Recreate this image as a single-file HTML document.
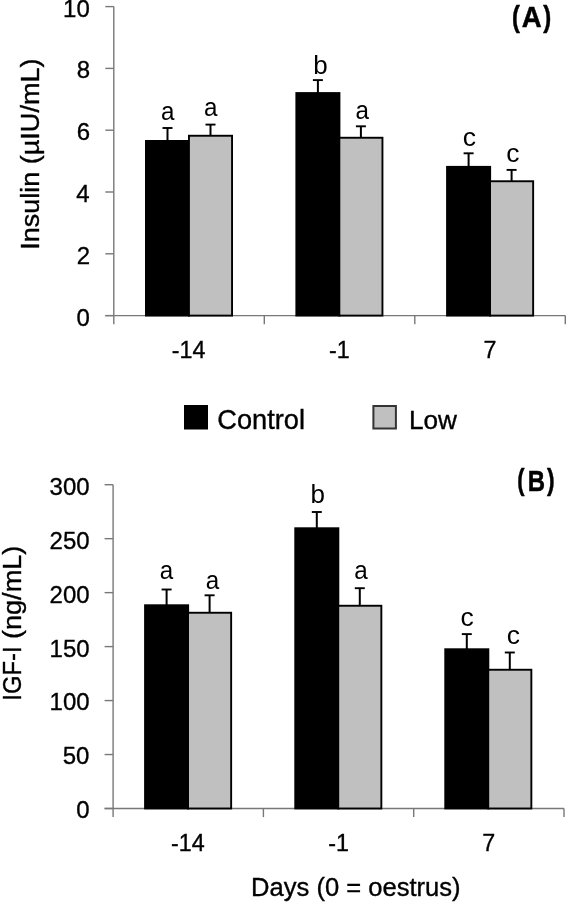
<!DOCTYPE html>
<html><head><meta charset="utf-8"><style>
html,body{margin:0;padding:0;background:#fff;width:566px;height:902px;overflow:hidden}
svg{display:block;will-change:transform}
text{font-family:"Liberation Sans",sans-serif;font-size:100px;fill:#000;stroke:#000;stroke-width:1.4px}
text.ns{stroke:none}
text.bd{stroke-width:1.6px}
</style></head><body>
<svg width="566" height="902" viewBox="0 0 566 902">
<rect width="566" height="902" fill="#fff"/>
<line x1="113.8" y1="6.6" x2="113.8" y2="324.20000000000005" stroke="#787878" stroke-width="1.4"/>
<line x1="105.3" y1="315.6" x2="565.3" y2="315.6" stroke="#787878" stroke-width="1.4"/>
<line x1="105.3" y1="6.6" x2="113.8" y2="6.6" stroke="#787878" stroke-width="1.4"/>
<line x1="105.3" y1="68.39999999999999" x2="113.8" y2="68.39999999999999" stroke="#787878" stroke-width="1.4"/>
<line x1="105.3" y1="130.2" x2="113.8" y2="130.2" stroke="#787878" stroke-width="1.4"/>
<line x1="105.3" y1="192.0" x2="113.8" y2="192.0" stroke="#787878" stroke-width="1.4"/>
<line x1="105.3" y1="253.79999999999998" x2="113.8" y2="253.79999999999998" stroke="#787878" stroke-width="1.4"/>
<line x1="105.3" y1="315.6" x2="113.8" y2="315.6" stroke="#787878" stroke-width="1.4"/>
<line x1="264.29999999999995" y1="315.6" x2="264.29999999999995" y2="324.20000000000005" stroke="#787878" stroke-width="1.4"/>
<line x1="414.79999999999995" y1="315.6" x2="414.79999999999995" y2="324.20000000000005" stroke="#787878" stroke-width="1.4"/>
<line x1="565.2999999999998" y1="315.6" x2="565.2999999999998" y2="324.20000000000005" stroke="#787878" stroke-width="1.4"/>
<line x1="167.50" y1="141.00" x2="167.50" y2="128.00" stroke="#000" stroke-width="2"/>
<line x1="162.50" y1="128.00" x2="172.50" y2="128.00" stroke="#000" stroke-width="1.9"/>
<line x1="210.50" y1="135.80" x2="210.50" y2="124.60" stroke="#000" stroke-width="2"/>
<line x1="205.50" y1="124.60" x2="215.50" y2="124.60" stroke="#000" stroke-width="1.9"/>
<rect x="145.00" y="140.00" width="45.00" height="176.50" fill="#000"/>
<rect x="188.95" y="135.75" width="43.10" height="179.85" fill="#c0c0c0" stroke="#000" stroke-width="1.9"/>
<line x1="317.90" y1="93.10" x2="317.90" y2="80.10" stroke="#000" stroke-width="2"/>
<line x1="312.90" y1="80.10" x2="322.90" y2="80.10" stroke="#000" stroke-width="1.9"/>
<line x1="360.90" y1="137.80" x2="360.90" y2="126.30" stroke="#000" stroke-width="2"/>
<line x1="355.90" y1="126.30" x2="365.90" y2="126.30" stroke="#000" stroke-width="1.9"/>
<rect x="295.40" y="92.10" width="45.00" height="224.40" fill="#000"/>
<rect x="339.35" y="137.75" width="43.10" height="177.85" fill="#c0c0c0" stroke="#000" stroke-width="1.9"/>
<line x1="468.60" y1="166.90" x2="468.60" y2="153.30" stroke="#000" stroke-width="2"/>
<line x1="463.60" y1="153.30" x2="473.60" y2="153.30" stroke="#000" stroke-width="1.9"/>
<line x1="511.60" y1="181.30" x2="511.60" y2="169.90" stroke="#000" stroke-width="2"/>
<line x1="506.60" y1="169.90" x2="516.60" y2="169.90" stroke="#000" stroke-width="1.9"/>
<rect x="446.10" y="165.90" width="45.00" height="150.60" fill="#000"/>
<rect x="490.05" y="181.25" width="43.10" height="134.35" fill="#c0c0c0" stroke="#000" stroke-width="1.9"/>
<line x1="113.1" y1="484.7" x2="113.1" y2="817.1" stroke="#787878" stroke-width="1.4"/>
<line x1="104.6" y1="808.5" x2="564.0" y2="808.5" stroke="#787878" stroke-width="1.4"/>
<line x1="104.6" y1="484.7" x2="113.1" y2="484.7" stroke="#787878" stroke-width="1.4"/>
<line x1="104.6" y1="538.6666666666666" x2="113.1" y2="538.6666666666666" stroke="#787878" stroke-width="1.4"/>
<line x1="104.6" y1="592.6333333333333" x2="113.1" y2="592.6333333333333" stroke="#787878" stroke-width="1.4"/>
<line x1="104.6" y1="646.6" x2="113.1" y2="646.6" stroke="#787878" stroke-width="1.4"/>
<line x1="104.6" y1="700.5666666666666" x2="113.1" y2="700.5666666666666" stroke="#787878" stroke-width="1.4"/>
<line x1="104.6" y1="754.5333333333333" x2="113.1" y2="754.5333333333333" stroke="#787878" stroke-width="1.4"/>
<line x1="104.6" y1="808.5" x2="113.1" y2="808.5" stroke="#787878" stroke-width="1.4"/>
<line x1="263.4" y1="808.5" x2="263.4" y2="817.1" stroke="#787878" stroke-width="1.4"/>
<line x1="413.69999999999993" y1="808.5" x2="413.69999999999993" y2="817.1" stroke="#787878" stroke-width="1.4"/>
<line x1="564.0" y1="808.5" x2="564.0" y2="817.1" stroke="#787878" stroke-width="1.4"/>
<line x1="166.60" y1="605.30" x2="166.60" y2="589.50" stroke="#000" stroke-width="2"/>
<line x1="161.60" y1="589.50" x2="171.60" y2="589.50" stroke="#000" stroke-width="1.9"/>
<line x1="209.60" y1="612.80" x2="209.60" y2="595.30" stroke="#000" stroke-width="2"/>
<line x1="204.60" y1="595.30" x2="214.60" y2="595.30" stroke="#000" stroke-width="1.9"/>
<rect x="144.10" y="604.30" width="45.00" height="205.10" fill="#000"/>
<rect x="188.05" y="612.75" width="43.10" height="195.75" fill="#c0c0c0" stroke="#000" stroke-width="1.9"/>
<line x1="316.80" y1="528.30" x2="316.80" y2="512.00" stroke="#000" stroke-width="2"/>
<line x1="311.80" y1="512.00" x2="321.80" y2="512.00" stroke="#000" stroke-width="1.9"/>
<line x1="359.80" y1="605.80" x2="359.80" y2="588.20" stroke="#000" stroke-width="2"/>
<line x1="354.80" y1="588.20" x2="364.80" y2="588.20" stroke="#000" stroke-width="1.9"/>
<rect x="294.30" y="527.30" width="45.00" height="282.10" fill="#000"/>
<rect x="338.25" y="605.75" width="43.10" height="202.75" fill="#c0c0c0" stroke="#000" stroke-width="1.9"/>
<line x1="466.80" y1="649.30" x2="466.80" y2="634.10" stroke="#000" stroke-width="2"/>
<line x1="461.80" y1="634.10" x2="471.80" y2="634.10" stroke="#000" stroke-width="1.9"/>
<line x1="509.80" y1="669.80" x2="509.80" y2="652.50" stroke="#000" stroke-width="2"/>
<line x1="504.80" y1="652.50" x2="514.80" y2="652.50" stroke="#000" stroke-width="1.9"/>
<rect x="444.30" y="648.30" width="45.00" height="161.10" fill="#000"/>
<rect x="488.25" y="669.75" width="43.10" height="138.75" fill="#c0c0c0" stroke="#000" stroke-width="1.9"/>
<rect x="184" y="405" width="24" height="24.5" fill="#000"/>
<rect x="373.4" y="406" width="22.5" height="22.5" fill="#c0c0c0" stroke="#333" stroke-width="2"/>
<text transform="matrix(0.24000 0 0 0.23400 63.080 16.500)" font-weight="normal">10</text>
<text transform="matrix(0.24000 0 0 0.23400 76.760 78.300)" font-weight="normal">8</text>
<text transform="matrix(0.24000 0 0 0.23400 76.760 140.100)" font-weight="normal">6</text>
<text transform="matrix(0.24000 0 0 0.23400 76.280 201.900)" font-weight="normal">4</text>
<text transform="matrix(0.24000 0 0 0.23400 76.760 263.700)" font-weight="normal">2</text>
<text transform="matrix(0.24000 0 0 0.23400 76.520 325.500)" font-weight="normal">0</text>
<text transform="matrix(0.24000 0 0 0.23400 49.580 494.600)" font-weight="normal">300</text>
<text transform="matrix(0.24000 0 0 0.23400 49.580 548.567)" font-weight="normal">250</text>
<text transform="matrix(0.24000 0 0 0.23400 49.580 602.533)" font-weight="normal">200</text>
<text transform="matrix(0.24000 0 0 0.23400 49.580 656.500)" font-weight="normal">150</text>
<text transform="matrix(0.24000 0 0 0.23400 49.580 710.467)" font-weight="normal">100</text>
<text transform="matrix(0.24000 0 0 0.23400 62.780 764.433)" font-weight="normal">50</text>
<text transform="matrix(0.24000 0 0 0.23400 76.220 818.400)" font-weight="normal">0</text>
<text transform="matrix(0.23300 0 0 0.23900 171.791 358.100)" font-weight="normal">-14</text>
<text transform="matrix(0.23300 0 0 0.23900 328.898 358.100)" font-weight="normal">-1</text>
<text transform="matrix(0.23300 0 0 0.23900 483.526 358.100)" font-weight="normal">7</text>
<text transform="matrix(0.23300 0 0 0.23900 170.991 850.800)" font-weight="normal">-14</text>
<text transform="matrix(0.23300 0 0 0.23900 328.148 850.800)" font-weight="normal">-1</text>
<text transform="matrix(0.23300 0 0 0.23900 482.176 850.800)" font-weight="normal">7</text>
<text class="ns" transform="matrix(0.24200 0 0 0.25600 161.040 119.750)" font-weight="normal">a</text>
<text class="ns" transform="matrix(0.24200 0 0 0.25600 204.040 116.050)" font-weight="normal">a</text>
<text class="ns" transform="matrix(0.26000 0 0 0.25600 313.340 74.050)" font-weight="normal">b</text>
<text class="ns" transform="matrix(0.24200 0 0 0.25600 355.440 119.250)" font-weight="normal">a</text>
<text class="ns" transform="matrix(0.26500 0 0 0.25600 462.642 145.850)" font-weight="normal">c</text>
<text class="ns" transform="matrix(0.26500 0 0 0.25600 506.243 162.150)" font-weight="normal">c</text>
<text class="ns" transform="matrix(0.24200 0 0 0.25600 159.740 578.550)" font-weight="normal">a</text>
<text class="ns" transform="matrix(0.24200 0 0 0.25600 205.640 588.650)" font-weight="normal">a</text>
<text class="ns" transform="matrix(0.26000 0 0 0.25600 310.440 502.750)" font-weight="normal">b</text>
<text class="ns" transform="matrix(0.24200 0 0 0.25600 354.290 579.350)" font-weight="normal">a</text>
<text class="ns" transform="matrix(0.26500 0 0 0.25600 460.442 625.550)" font-weight="normal">c</text>
<text class="ns" transform="matrix(0.26500 0 0 0.25600 506.843 644.150)" font-weight="normal">c</text>
<text class="bd" transform="matrix(0.23571 0 0 0.29892 512.121 26.623)" font-weight="bold">(</text>
<text class="bd" transform="matrix(0.27576 0 0 0.28986 521.673 27.200)" font-weight="bold">A</text>
<text class="bd" transform="matrix(0.23929 0 0 0.29892 543.300 26.623)" font-weight="bold">)</text>
<text class="bd" transform="matrix(0.21786 0 0 0.29892 517.211 489.723)" font-weight="bold">(</text>
<text class="bd" transform="matrix(0.23934 0 0 0.29855 527.825 490.600)" font-weight="bold">B</text>
<text class="bd" transform="matrix(0.22857 0 0 0.29892 546.900 489.723)" font-weight="bold">)</text>
<text transform="matrix(0.27235 0 0 0.27361 217.238 429.400)" font-weight="normal">Control</text>
<text transform="matrix(0.26171 0 0 0.26377 408.906 429.400)" font-weight="normal">Low</text>
<text transform="matrix(0.25578 0 0 0.26232 251.054 896.100)" font-weight="normal">Days (0 = oestrus)</text>
<text transform="matrix(0 -0.26960 0.26667 0 38.900 249.626)">Insulin</text>
<text transform="matrix(0 -0.27045 0.26667 0 38.900 164.223)">(µIU/mL)</text>
<text transform="matrix(0 -0.23857 0.25507 0 21.200 700.747)">IGF-I</text>
<text transform="matrix(0 -0.27108 0.25507 0 21.200 639.027)">(ng/mL)</text>
</svg></body></html>
